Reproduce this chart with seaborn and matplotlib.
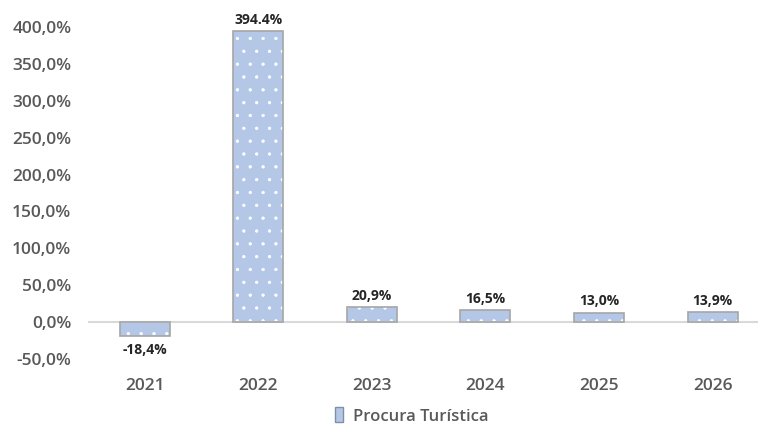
import matplotlib
matplotlib.use("Agg")
import matplotlib.pyplot as plt
import seaborn as sns
import pandas as pd
from matplotlib.patches import Rectangle
from matplotlib.ticker import FuncFormatter

years = ["2021", "2022", "2023", "2024", "2025", "2026"]
values = [-18.4, 394.4, 20.9, 16.5, 13.0, 13.9]
labels = ["-18,4%", "394.4%", "20,9%", "16,5%", "13,0%", "13,9%"]
series_name = "Procura Turística"
yticks = [-50, 0, 50, 100, 150, 200, 250, 300, 350, 400]

DPI = 77
S = 100 / DPI  # scale so point sizes look as at 100 dpi

sns.set_theme(style="white")
plt.rcParams['font.family'] = ['Open Sans', 'DejaVu Sans']
plt.rcParams['hatch.linewidth'] = 0.5 * S

df = pd.DataFrame({"year": years, "value": values})

W, H = 760, 426
fig = plt.figure(figsize=(W / DPI, H / DPI), dpi=DPI)
ax = fig.add_axes([88 / W, 1 - 359 / H, (758 - 88) / W, (359 - 27) / H])

fill = "#B4C7E7"
edge = "#A6A6A6"
sns.barplot(data=df, x="year", y="value", ax=ax, color=fill, saturation=1,
            width=0.44, edgecolor="white", linewidth=0, hatch=".")

for p in list(ax.patches):
    ax.add_patch(Rectangle(p.get_xy(), p.get_width(), p.get_height(),
                           fill=False, edgecolor=edge, linewidth=1.2 * S, zorder=3))

ax.set_xlim(-0.5, 5.40)
ax.set_ylim(-50, 400)
ax.set_yticks(yticks)
ax.yaxis.set_major_formatter(FuncFormatter(lambda v, _: f"{v:.1f}%".replace(".", ",")))
ax.axhline(0, color="#D9D9D9", linewidth=1.5 * S, zorder=1)
for s in ax.spines.values():
    s.set_visible(False)
ax.set_xlabel("")
ax.set_ylabel("")
ax.tick_params(axis="y", labelsize=12.5 * S, labelcolor="#595959", pad=12 * S, length=0)
ax.tick_params(axis="x", labelsize=12.5 * S, labelcolor="#595959", pad=14 * S, length=0)
for t in ax.get_xticklabels() + ax.get_yticklabels():
    t.set_fontweight("semibold")

for i, (v, lab) in enumerate(zip(values, labels)):
    if v >= 0:
        ax.annotate(lab, (i, v), xytext=(0, 3 * S), textcoords="offset points",
                    ha="center", va="bottom", fontsize=10 * S, fontweight="bold", color="#262626")
    else:
        ax.annotate(lab, (i, v), xytext=(0, -5 * S), textcoords="offset points",
                    ha="center", va="top", fontsize=10 * S, fontweight="bold", color="#262626")

handle = Rectangle((0, 0), 1, 1, facecolor=fill, edgecolor="#7F8FA6", linewidth=1 * S)
leg = fig.legend([handle], [series_name], loc="center", bbox_to_anchor=(412 / W, 1 - 416 / H),
                 frameon=False, fontsize=12 * S, handlelength=0.5, handleheight=1.0, handletextpad=0.6)
for t in leg.get_texts():
    t.set_color("#595959")
    t.set_fontweight("semibold")

fig.savefig("out.png", dpi=DPI)
